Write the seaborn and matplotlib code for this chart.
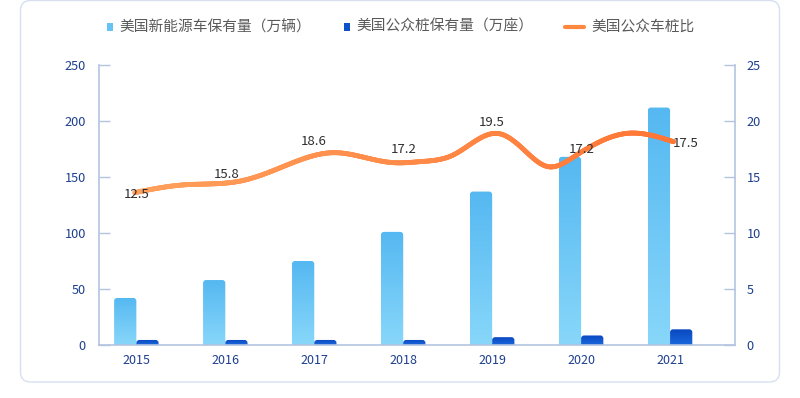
import numpy as np
import pandas as pd
import matplotlib
matplotlib.use("Agg")
import matplotlib.pyplot as plt
import seaborn as sns
from matplotlib.patches import FancyBboxPatch, Rectangle
from matplotlib.collections import LineCollection
from matplotlib.colors import LinearSegmentedColormap
from matplotlib.lines import Line2D

# ---------------- data ----------------
years = ["2015", "2016", "2017", "2018", "2019", "2020", "2021"]
ev_stock = [42, 58, 75, 101, 137, 168, 212]          # 美国新能源车保有量（万辆）
charger_stock = [4.5, 4.5, 4.5, 4.5, 7, 8.5, 14]     # 美国公众桩保有量（万座）
ratio_labels = [12.5, 15.8, 18.6, 17.2, 19.5, 17.2, 17.5]  # 美国公众车桩比 (labels)
# trace of the drawn ratio curve (x in category index units, y on right axis)
curve_x = [-0.02, 0.52, 1.17, 1.47, 1.84, 2.21, 2.59, 2.89, 3.19, 3.56, 4.07, 4.32, 4.63, 4.92, 5.52, 6.04]
curve_y = [13.6, 14.29, 14.64, 15.36, 16.52, 17.17, 16.7, 16.28, 16.37, 16.96, 18.88, 17.7, 15.92, 16.81, 18.9, 18.15]

legend_names = ["美国新能源车保有量（万辆）", "美国公众桩保有量（万座）", "美国公众车桩比"]
left_ticks = [0, 50, 100, 150, 200, 250]
right_ticks = [0, 5, 10, 15, 20, 25]

# ---------------- style ----------------
sns.set_theme(style="white")
plt.rcParams["font.family"] = ["Noto Sans CJK SC", "DejaVu Sans"]

TICK_C = "#1d3f8e"
AXIS_C = "#b3c3e0"
LEG_C = "#5a5a5a"

W, H = 800, 398
fig = plt.figure(figsize=(W / 100, H / 100), dpi=100)

# card background
card = FancyBboxPatch((20.5 / W, (H - 382) / H), 759 / W, 381.5 / H,
                      boxstyle="round,pad=0,rounding_size=0.0125",
                      mutation_aspect=W / H,
                      transform=fig.transFigure, fc="white", ec="#d6e0f0", lw=1.0, zorder=-5)
fig.patches.append(card)

ax_l, ax_r, ax_b, ax_t = 99, 735, 345, 65
ax = fig.add_axes([ax_l / W, (H - ax_b) / H, (ax_r - ax_l) / W, (ax_b - ax_t) / H])
ax.patch.set_alpha(0)

df = pd.DataFrame({
    "year": years * 2,
    "value": ev_stock + charger_stock,
    "series": [legend_names[0]] * len(years) + [legend_names[1]] * len(years),
})
pal = {legend_names[0]: "#5bbcf2", legend_names[1]: "#0d52c9"}
sns.barplot(data=df, x="year", y="value", hue="series", palette=pal, width=0.5,
            dodge=True, legend=False, ax=ax, saturation=1)

x0, x1 = -0.42, 6.73
ax.set_xlim(x0, x1)
ax.set_ylim(0, 250)

# gradient rounded bars
px_per_x = (ax_r - ax_l) / (x1 - x0)
px_per_y = (ax_b - ax_t) / 250
aspect = px_per_x / px_per_y
rx = 3.0 / px_per_x
ry = rx * aspect
cmaps = {
    0: LinearSegmentedColormap.from_list("lb", ["#88d7fa", "#55b8f1"]),
    1: LinearSegmentedColormap.from_list("db", ["#1a67dc", "#0a48bf"]),
}
grad = np.linspace(0, 1, 256).reshape(-1, 1)
bars = list(ax.patches)
n = len(years)
for k, p in enumerate(bars):
    s = 0 if k < n else 1
    bx, bw, bh = p.get_x(), p.get_width(), p.get_height()
    p.set_visible(False)
    clip = FancyBboxPatch((bx, -ry), bw, bh + ry,
                          boxstyle=f"round,pad=0,rounding_size={rx}",
                          mutation_aspect=aspect, fc="none", ec="none")
    ax.add_patch(clip)
    im = ax.imshow(grad, extent=[bx, bx + bw, 0, bh], origin="lower",
                   aspect="auto", cmap=cmaps[s], zorder=2)
    im.set_clip_path(clip)
ax.set_xlim(x0, x1)
ax.set_ylim(0, 250)

ax.set_xlabel("")
ax.set_ylabel("")
ax.set_yticks(left_ticks)
ax.tick_params(axis="y", direction="in", length=8, width=1, color=AXIS_C,
               labelcolor=TICK_C, labelsize=9.2, pad=9.5)
ax.tick_params(axis="x", length=0, labelcolor=TICK_C, labelsize=9, pad=6.5)
for side in ["top", "right"]:
    ax.spines[side].set_visible(False)
for side in ["left", "bottom"]:
    ax.spines[side].set_color(AXIS_C)
    ax.spines[side].set_linewidth(1.2)
ax.grid(False)

# right axis with ratio curve
ax2 = ax.twinx()
ax2.set_ylim(0, 25)
ax2.set_yticks(right_ticks)
ax2.tick_params(axis="y", direction="in", length=8, width=1, color=AXIS_C,
                labelcolor=TICK_C, labelsize=9.2, pad=8.5)
for side in ["top", "left", "bottom"]:
    ax2.spines[side].set_visible(False)
ax2.spines["right"].set_color(AXIS_C)
ax2.spines["right"].set_linewidth(1.2)
ax2.grid(False)


def natural_spline(xs, ys, n=600):
    """Smooth rendering of the traced curve (natural cubic spline)."""
    xs = np.asarray(xs, float)
    ys = np.asarray(ys, float)
    m = len(xs)
    h = np.diff(xs)
    A = np.zeros((m, m))
    b = np.zeros(m)
    A[0, 0] = A[-1, -1] = 1
    for i in range(1, m - 1):
        A[i, i - 1] = h[i - 1]
        A[i, i] = 2 * (h[i - 1] + h[i])
        A[i, i + 1] = h[i]
        b[i] = 6 * ((ys[i + 1] - ys[i]) / h[i] - (ys[i] - ys[i - 1]) / h[i - 1])
    M = np.linalg.solve(A, b)
    xx = np.linspace(xs[0], xs[-1], n)
    idx = np.clip(np.searchsorted(xs, xx) - 1, 0, m - 2)
    xa, xb = xs[idx], xs[idx + 1]
    hh = xb - xa
    ta = (xb - xx) / hh
    tb = (xx - xa) / hh
    yy = (M[idx] * (xb - xx) ** 3 / (6 * hh) + M[idx + 1] * (xx - xa) ** 3 / (6 * hh)
          + (ys[idx] - M[idx] * hh ** 2 / 6) * ta + (ys[idx + 1] - M[idx + 1] * hh ** 2 / 6) * tb)
    return np.column_stack([xx, yy])


curve = natural_spline(curve_x, curve_y)
segs = np.stack([curve[:-1], curve[1:]], axis=1)
line_cmap = LinearSegmentedColormap.from_list("or", ["#ffa05c", "#ff7635"])
lc = LineCollection(segs, cmap=line_cmap, linewidths=3.5, capstyle="round", joinstyle="round", zorder=3)
lc.set_array(np.linspace(0, 1, len(segs)))
ax2.add_collection(lc)
ax2.set_xlim(x0, x1)

# data labels
dy_px = [-2.4, 8.5, 14, 13, 11, 3, -3]
dx_px = [0, 1, -1, 1, -1, 1, 16]
for i, v in enumerate(ratio_labels):
    yline = np.interp(i, curve[:, 0], curve[:, 1])
    ax2.annotate(f"{v}", xy=(i, yline), xytext=(dx_px[i] * 0.72, dy_px[i] * 0.72),
                 textcoords="offset points", ha="center", va="center",
                 fontsize=9.5, color="#2e2e2e", zorder=5)

# legend (drawn manually in figure pixels)
ly = (H - 27) / H
fig.patches.append(Rectangle((107 / W, (H - 31) / H), 6 / W, 8 / H, transform=fig.transFigure,
                             fc="#66c4f5", ec="none"))
fig.text(119 / W, ly, legend_names[0], fontsize=10.6, color=LEG_C, va="center", ha="left")
fig.patches.append(Rectangle((344 / W, (H - 31) / H), 6 / W, 8 / H, transform=fig.transFigure,
                             fc="#0d52c9", ec="none"))
fig.text(356 / W, ly, legend_names[1], fontsize=10.6, color=LEG_C, va="center", ha="left")
fig.lines.append(Line2D([565 / W, 584 / W], [ly, ly], transform=fig.transFigure,
                        color="#ff8840", lw=3.0))
fig.text(591 / W, ly, legend_names[2], fontsize=10.6, color=LEG_C, va="center", ha="left")

fig.savefig("out.png", dpi=100)
